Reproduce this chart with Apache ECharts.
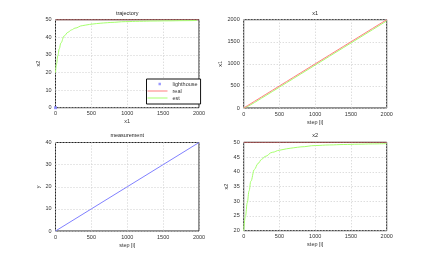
<!DOCTYPE html>
<html><head><meta charset="utf-8">
<script src="https://cdn.jsdelivr.net/npm/echarts@6/dist/echarts.min.js"></script>
<style>html,body{margin:0;padding:0;background:#fff}#c{width:427px;height:260px}</style>
</head><body><div id="c"></div>
<script>
// sample steps
var steps   = [0, 25, 50, 75, 100, 150, 200, 250, 300, 400, 500, 600, 700, 800, 1000, 1200, 1400, 1600, 1800, 2000];
// real state
var realX1  = [0, 25, 50, 75, 100, 150, 200, 250, 300, 400, 500, 600, 700, 800, 1000, 1200, 1400, 1600, 1800, 2000];
var realX2  = [50, 50, 50, 50, 50, 50, 50, 50, 50, 50, 50, 50, 50, 50, 50, 50, 50, 50, 50, 50];
// estimated state
var estX1   = [0, 15, 32, 53, 75, 122, 172, 222, 272, 372, 472, 572, 672, 772, 972, 1172, 1372, 1572, 1772, 1972];
var estX2   = [20, 25, 29.5, 33.5, 36.8, 40.8, 42.8, 44.2, 45.2, 46.6, 47.3, 47.8, 48.15, 48.45, 48.9, 49.1, 49.25, 49.35, 49.45, 49.55];
// measurement
var measSteps = [0, 500, 1000, 1500, 2000];
var measY     = [0, 10, 20, 30, 40];
// lighthouse position
var lighthouse = [[0, 0]];
// titles / names
var titles = ['trajectory', 'x1', 'measurement', 'x2'];

var RED = '#ff7f7f', GREEN = '#a6ff6e', BLUE = '#8080ff';
var FONT = 'Liberation Sans';
function zip(a, b) { return a.map(function (v, i) { return [v, b[i]]; }); }

var grids = [
  {left: 55.5, top: 19.7, width: 143.5, height: 88},
  {left: 243.7, top: 19.7, width: 143, height: 88.3},
  {left: 55.5, top: 142.5, width: 143.5, height: 88.5},
  {left: 243.7, top: 142.3, width: 143, height: 88.4}
].map(function (g) {
  return Object.assign({show: true, borderColor: '#222', borderWidth: 1, backgroundColor: '#fff'}, g);
});

var tick = {fontSize: 5.5, color: '#333', fontFamily: FONT, formatter: function (v) { return String(v); }};
var split = {show: true, lineStyle: {color: '#cfcfcf', type: [1, 2], width: 1}};
function xAx(i, name) {
  return {type: 'value', gridIndex: i, min: 0, max: 2000, interval: 500,
    name: name, nameLocation: 'middle', nameGap: 11,
    nameTextStyle: {fontSize: 5.5, color: '#333', fontFamily: FONT},
    axisLine: {show: false}, axisTick: {show: false},
    axisLabel: Object.assign({margin: 3}, tick), splitLine: split};
}
function yAx(i, name, min, max, interval, gap) {
  return {type: 'value', gridIndex: i, min: min, max: max, interval: interval,
    name: name, nameLocation: 'middle', nameGap: gap,
    nameTextStyle: {fontSize: 5.5, color: '#333', fontFamily: FONT},
    axisLine: {show: false}, axisTick: {show: false},
    axisLabel: Object.assign({margin: 4}, tick), splitLine: split};
}

// legend icons: bbox 20x4, thin line / small marker in the middle
var LINE_ICON = 'path://M0,0 L0.01,0 L0.01,0.01 Z M19.99,3.99 L20,3.99 L20,4 Z M0,1.5 L20,1.5 L20,2.5 L0,2.5 Z';
var MARK_ICON = 'path://M0,0 L0.01,0 L0.01,0.01 Z M19.99,3.99 L20,3.99 L20,4 Z M11,0.8 L13.4,0.8 L13.4,3.2 L11,3.2 Z';

var titleCenters = [[127.2, 10], [315.2, 10], [127.2, 132.7], [315.2, 132.7]];
var option = {
  animation: false,
  textStyle: {fontFamily: FONT},
  title: titles.map(function (t, i) {
    return {text: t, left: titleCenters[i][0], top: titleCenters[i][1], textAlign: 'center', padding: 0,
      textStyle: {fontSize: 5.5, fontWeight: 'normal', color: '#222', fontFamily: FONT}};
  }),
  grid: grids,
  xAxis: [xAx(0, 'x1'), xAx(1, 'step [i]'), xAx(2, 'step [i]'), xAx(3, 'step [i]')],
  yAxis: [
    yAx(0, 'x2', 0, 50, 10, 11),
    yAx(1, 'x1', 0, 2000, 500, 17.5),
    yAx(2, 'y', 0, 40, 10, 11),
    yAx(3, 'x2', 20, 50, 5, 11.5)
  ],
  legend: {
    orient: 'vertical', left: 146.5, top: 79,
    padding: [2, 3, 3, 1], itemGap: 1, itemWidth: 20, itemHeight: 4,
    borderColor: '#111', borderWidth: 1, backgroundColor: '#fff', borderRadius: 0,
    symbolKeepAspect: false,
    textStyle: {fontSize: 5.5, color: '#333', fontFamily: FONT, lineHeight: 6},
    data: [
      {name: 'lighthouse', icon: MARK_ICON, itemStyle: {color: BLUE}},
      {name: 'real', icon: LINE_ICON, itemStyle: {color: RED}},
      {name: 'est', icon: LINE_ICON, itemStyle: {color: GREEN}}
    ]
  },
  series: [
    {name: 'lighthouse', type: 'scatter', xAxisIndex: 0, yAxisIndex: 0, data: lighthouse,
      symbol: 'rect', symbolSize: 3, itemStyle: {color: BLUE}, z: 5},
    {name: 'real', type: 'line', xAxisIndex: 0, yAxisIndex: 0, data: zip(realX1, realX2),
      symbol: 'none', lineStyle: {color: RED, width: 1}, itemStyle: {color: RED}},
    {name: 'est', type: 'line', xAxisIndex: 0, yAxisIndex: 0, data: zip(estX1, estX2),
      symbol: 'none', smooth: 0.4, smoothMonotone: 'x', lineStyle: {color: GREEN, width: 1}, itemStyle: {color: GREEN}},

    {name: 'real', type: 'line', xAxisIndex: 1, yAxisIndex: 1, data: zip(steps, realX1),
      symbol: 'none', lineStyle: {color: RED, width: 1}, itemStyle: {color: RED}},
    {name: 'est', type: 'line', xAxisIndex: 1, yAxisIndex: 1, data: zip(steps, estX1),
      symbol: 'none', lineStyle: {color: GREEN, width: 1}, itemStyle: {color: GREEN}, z: 1},

    {name: 'meas', type: 'line', xAxisIndex: 2, yAxisIndex: 2, data: zip(measSteps, measY),
      symbol: 'none', lineStyle: {color: BLUE, width: 1}, itemStyle: {color: BLUE}},

    {name: 'real', type: 'line', xAxisIndex: 3, yAxisIndex: 3, data: zip(steps, realX2),
      symbol: 'none', lineStyle: {color: '#a04848', width: 1}, itemStyle: {color: RED}},
    {name: 'est', type: 'line', xAxisIndex: 3, yAxisIndex: 3, data: zip(steps, estX2),
      symbol: 'none', smooth: 0.4, smoothMonotone: 'x', lineStyle: {color: GREEN, width: 1}, itemStyle: {color: GREEN}}
  ]
};
option.series[1].lineStyle.color = '#a04848';
var chart = echarts.init(document.getElementById('c'), null, {renderer: 'canvas'});
chart.setOption(option);
</script></body></html>
